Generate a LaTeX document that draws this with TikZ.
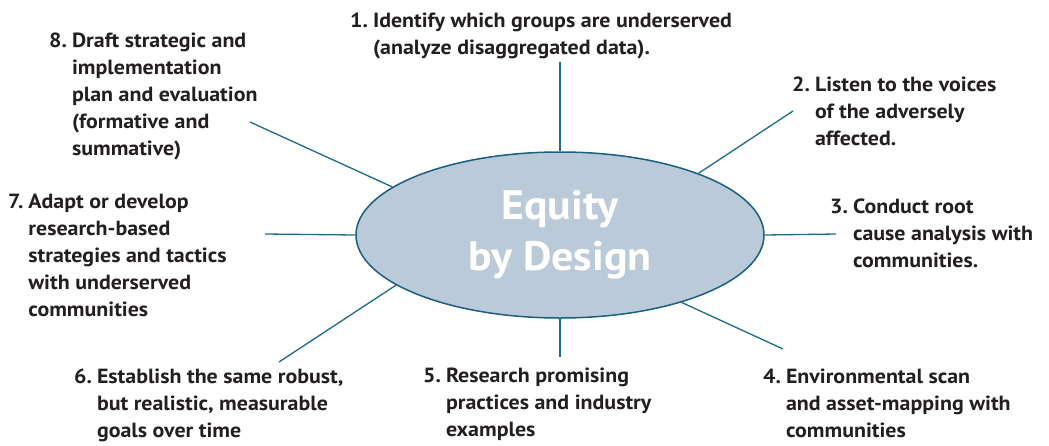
\documentclass[tikz,border=0pt]{standalone}
\usepackage{fontspec}
\setmainfont{PT Sans}[FakeStretch=1.07]
\usepackage{tikz}
\usetikzlibrary{shapes.geometric,positioning}

\definecolor{inkgray}{HTML}{231F20}
\definecolor{spokeblue}{HTML}{1B6A8C}
\definecolor{hubfill}{HTML}{BBCAD8}
\definecolor{hubline}{HTML}{1A5E80}

\tikzset{
  hub/.style={ellipse, draw=hubline, line width=1.5pt, fill=hubfill, minimum width=408pt, minimum height=166pt, inner sep=0pt, align=center, text=white, font=\bfseries\fontsize{41}{51}\selectfont},
  spoke/.style={draw=spokeblue, line width=1.3pt},
  item/.style={anchor=base west, inner sep=0pt, text=inkgray, font=\bfseries\fontsize{20.5}{27}\selectfont}
}
\newcommand{\numbered}[2]{\begin{tabular}[t]{@{}l@{\hspace{5pt}}l@{}}#1 & #2\end{tabular}}

\begin{document}
\begin{tikzpicture}[x=1pt, y=-1pt]
  \useasboundingbox (0,0) rectangle (1049,445);

  \node[hub] (hub) at (560,235) {Equity\\by Design};

  % free ends of the spokes
  \coordinate (e1) at (560,62);
  \coordinate (e2) at (793,111);
  \coordinate (e3) at (836,234);
  \coordinate (e4) at (783,349);
  \coordinate (e5) at (560,357);
  \coordinate (e6) at (279,362);
  \coordinate (e7) at (265,234);
  \coordinate (e8) at (250,122);

  \draw[spoke] (hub.north) -- (e1);
  \draw[spoke] (hub.24.7) -- (e2);
  \draw[spoke] (hub.east) -- (e3);
  \draw[spoke] (hub.-29) -- (e4);
  \draw[spoke] (hub.south) -- (e5);
  \draw[spoke] (hub.197.5) -- (e6);
  \draw[spoke] (hub.west) -- (e7);
  \draw[spoke] (hub.164.5) -- (e8);

  % the eight steps
  \node[item] (s1) at (350,27) {\numbered{1.}{Identify which groups are underserved\\ & (analyze disaggregated data).}};
  \node[item] (s2) at (792,91) {\numbered{2.}{Listen to the voices\\ & of the adversely\\ & affected.}};
  \node[item] (s3) at (830,213) {\numbered{3.}{Conduct root\\ & cause analysis with\\ & communities.}};
  \node[item] (s4) at (763,383) {\numbered{4.}{Environmental scan\\ & and asset-mapping with\\ & communities}};
  \node[item] (s5) at (423,382) {\numbered{5.}{Research promising\\ & practices and industry\\ & examples}};
  \node[item] (s6) at (74,383) {\numbered{6.}{Establish the same robust,\\ & but realistic, measurable\\ & goals over time}};
  \node[item] (s7) at (8,208) {\numbered{7.}{Adapt or develop\\ & research-based\\ & strategies and tactics\\ & with underserved\\ & communities}};
  \node[item] (s8) at (49,47) {\numbered{8.}{Draft strategic and\\ & implementation\\ & plan and evaluation\\ & (formative and\\ & summative)}};
\end{tikzpicture}
\end{document}
